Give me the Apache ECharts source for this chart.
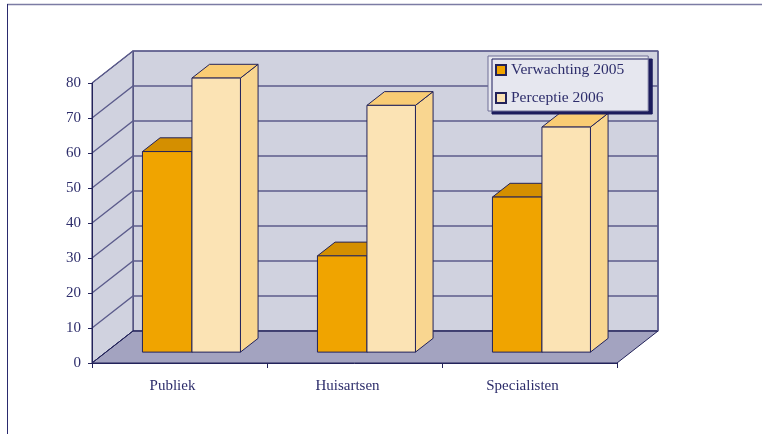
<!DOCTYPE html>
<html>
<head>
<meta charset="utf-8">
<script src="https://cdn.jsdelivr.net/npm/echarts@6/dist/echarts.min.js"></script>
<style>html,body{margin:0;padding:0;background:#fff;}#c{width:762px;height:434px;}</style>
</head>
<body>
<div id="c"></div>
<script>
const categories = ['Publiek', 'Huisartsen', 'Specialisten'];
const seriesNames = ['Verwachting 2005', 'Perceptie 2006'];
const verwachting2005 = [57.3, 27.5, 44.3];
const perceptie2006 = [78.3, 70.5, 64.3];
const yMin = 0, yMax = 80, yInterval = 10;

// 3D look (style constants)
const DX = 41, DY = -32, F0 = 0.34, F1 = 0.77;
const OUTLINE = '#23235a';
const GRID_LINE = '#5c5c8c';
const TEXT = '#2d2d6b';
const FONT = '"Liberation Serif", "DejaVu Serif", serif';

const barStyles = [
  { front: '#f0a400', top: '#d48f00', side: '#c98800', off: -51, w: 49.5 },
  { front: '#fbe3b4', top: '#f9cc74', side: '#f9d690', off: -1.5, w: 48.5 }
];

function frameRender(params, api) {
  const cs = params.coordSys;
  const x0 = cs.x, x1 = cs.x + cs.width;
  const y0 = api.coord([0, yMin])[1];
  const yTop = api.coord([0, yMax])[1];
  const ch = [];
  ch.push({ type: 'polygon', shape: { points: [[x0 + DX, yTop + DY], [x1 + DX, yTop + DY], [x1 + DX, y0 + DY], [x0 + DX, y0 + DY]] },
    style: { fill: '#d0d2df', stroke: GRID_LINE, lineWidth: 1.2 } });
  ch.push({ type: 'polygon', shape: { points: [[x0, y0], [x0, yTop], [x0 + DX, yTop + DY], [x0 + DX, y0 + DY]] },
    style: { fill: '#d0d2df', stroke: OUTLINE, lineWidth: 1 } });
  ch.push({ type: 'polygon', shape: { points: [[x0, y0], [x1, y0], [x1 + DX, y0 + DY], [x0 + DX, y0 + DY]] },
    style: { fill: '#a3a3c0', stroke: OUTLINE, lineWidth: 1 } });
  for (let v = yMin; v <= yMax; v += yInterval) {
    const y = api.coord([0, v])[1];
    ch.push({ type: 'polyline', shape: { points: [[x0, y], [x0 + DX, y + DY], [x1 + DX, y + DY]] },
      style: { fill: null, stroke: v === yMin ? OUTLINE : GRID_LINE, lineWidth: v === yMin ? 1 : 1.3 } });
  }
  ch.push({ type: 'line', shape: { x1: x1 + DX, y1: yTop + DY, x2: x1 + DX, y2: y0 + DY },
    style: { stroke: GRID_LINE, lineWidth: 1.5 } });
  return { type: 'group', children: ch };
}

function makeBarRender(s) {
  const st = barStyles[s];
  return function (params, api) {
    const c = api.coord([api.value(0), api.value(1)]);
    const b = api.coord([api.value(0), 0]);
    const x0 = c[0] + st.off + DX * F0;
    const x1 = x0 + st.w;
    const yT = c[1] + DY * F0;
    const yB = b[1] + DY * F0;
    const ddx = DX * (F1 - F0), ddy = DY * (F1 - F0);
    const ls = { stroke: OUTLINE, lineWidth: 1, lineJoin: 'round' };
    return {
      type: 'group',
      children: [
        { type: 'polygon', shape: { points: [[x1, yT], [x1 + ddx, yT + ddy], [x1 + ddx, yB + ddy], [x1, yB]] },
          style: Object.assign({ fill: st.side }, ls) },
        { type: 'polygon', shape: { points: [[x0, yT], [x1, yT], [x1 + ddx, yT + ddy], [x0 + ddx, yT + ddy]] },
          style: Object.assign({ fill: st.top }, ls) },
        { type: 'rect', shape: { x: x0, y: yT, width: x1 - x0, height: yB - yT },
          style: Object.assign({ fill: st.front }, ls) }
      ]
    };
  };
}

const chart = echarts.init(document.getElementById('c'), null, { renderer: 'canvas' });
chart.setOption({
  animation: false,
  backgroundColor: '#ffffff',
  textStyle: { fontFamily: FONT },
  grid: { left: 92, top: 83, width: 525, height: 280, outerBoundsMode: 'none' },
  graphic: [
    { type: 'line', shape: { x1: 7, y1: 4.5, x2: 762, y2: 4.5 }, style: { stroke: '#7c7ca4', lineWidth: 1.5 } },
    { type: 'line', shape: { x1: 7.5, y1: 4, x2: 7.5, y2: 434 }, style: { stroke: '#2a2a6e', lineWidth: 1 } }
  ],
  legend: {
    orient: 'vertical',
    left: 488, top: 56,
    padding: [5, 24, 4, 7],
    itemGap: 10,
    itemWidth: 10, itemHeight: 10,
    icon: 'rect',
    backgroundColor: '#e6e7ef',
    borderColor: '#6e6e96',
    borderWidth: 1,
    shadowColor: '#1c1c5c',
    shadowBlur: 0,
    shadowOffsetX: 4,
    shadowOffsetY: 3,
    textStyle: { fontFamily: FONT, fontSize: 15.5, color: TEXT, lineHeight: 18 },
    data: seriesNames
  },
  xAxis: {
    type: 'category',
    data: categories,
    z: 5,
    axisLine: { lineStyle: { color: OUTLINE, width: 1 } },
    axisTick: { show: true, length: 5, lineStyle: { color: OUTLINE } },
    axisLabel: { fontFamily: FONT, fontSize: 15, color: TEXT, margin: 16, padding: [0, 14, 0, 0] }
  },
  yAxis: {
    type: 'value',
    min: yMin, max: yMax, interval: yInterval,
    z: 5,
    axisLine: { show: true, lineStyle: { color: OUTLINE, width: 1 } },
    axisTick: { show: true, length: 4, lineStyle: { color: OUTLINE } },
    axisLabel: { fontFamily: FONT, fontSize: 15, color: TEXT, margin: 11 },
    splitLine: { show: false }
  },
  series: [
    { type: 'custom', name: '_frame', z: 1, silent: true, renderItem: frameRender, data: [[0, 0]], legendHoverLink: false },
    { type: 'custom', name: seriesNames[0], z: 2, renderItem: makeBarRender(0),
      itemStyle: { color: barStyles[0].front, borderColor: OUTLINE, borderWidth: 1 },
      data: verwachting2005.map((v, i) => [i, v]) },
    { type: 'custom', name: seriesNames[1], z: 3, renderItem: makeBarRender(1),
      itemStyle: { color: barStyles[1].front, borderColor: OUTLINE, borderWidth: 1 },
      data: perceptie2006.map((v, i) => [i, v]) }
  ]
});
</script>
</body>
</html>
